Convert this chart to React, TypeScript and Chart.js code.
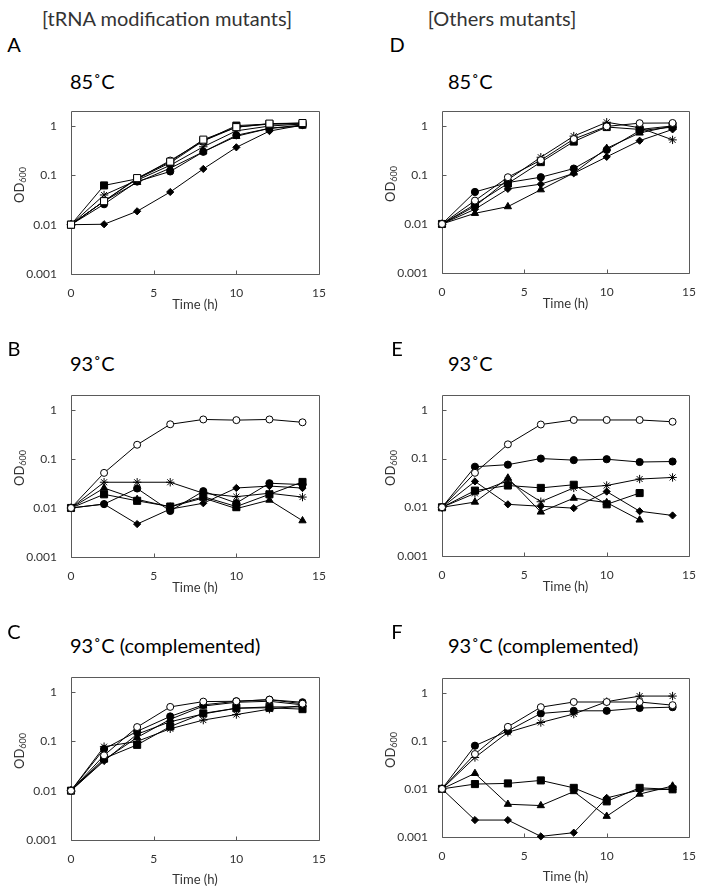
import React, { useEffect, useRef } from "react";
import { Chart, registerables } from "chart.js";
Chart.register(...registerables);

// ---------- shared axes / text ----------
const TIMES = [0, 2, 4, 6, 8, 10, 12, 14];
const X_TICKS = [0, 5, 10, 15];
const Y_TICKS = [0.001, 0.01, 0.1, 1];
const Y_MIN = 0.001;
const Y_MAX = 2;
const X_TITLE = "Time (h)";
const COLUMN_HEADERS = ["[tRNA modification mutants]", "[Others mutants]"];
const PANEL_LETTERS = ["A", "B", "C", "D", "E", "F"];
const PANEL_TITLES = ["85˚C", "93˚C", "93˚C (complemented)", "85˚C", "93˚C", "93˚C (complemented)"];

// ---------- Panel A (85˚C, tRNA modification mutants) ----------
const A_openCircle = [0.01, 0.03, 0.085, 0.2, 0.5, 0.95, 1.1, 1.15];
const A_openSquare = [0.01, 0.03, 0.088, 0.19, 0.53, 0.95, 1.12, 1.15];
const A_square = [0.01, 0.0625, 0.085, 0.18, 0.5, 1.02, 1.1, 1.1];
const A_star = [0.01, 0.04, 0.08, 0.16, 0.38, 0.8, 1.0, 1.1];
const A_circle = [0.01, 0.026, 0.075, 0.12, 0.3, 0.65, 0.9, 1.05];
const A_triangle = [0.01, 0.03, 0.072, 0.14, 0.3, 0.62, 0.9, 1.0];
const A_diamond = [0.01, 0.0102, 0.0187, 0.046, 0.135, 0.37, 0.79, 1.05];

// ---------- Panel B (93˚C, tRNA modification mutants) ----------
const B_openCircle = [0.01, 0.052, 0.195, 0.51, 0.64, 0.62, 0.64, 0.56];
const B_star = [0.01, 0.0335, 0.0335, 0.0335, 0.02, 0.017, 0.02, 0.0167];
const B_triangle = [0.01, 0.0255, 0.015, 0.0105, 0.016, 0.0097, 0.0145, 0.0055];
const B_square = [0.01, 0.019, 0.014, 0.0107, 0.017, 0.0107, 0.019, 0.034];
const B_circle = [0.01, 0.012, 0.025, 0.0087, 0.022, 0.0126, 0.032, 0.03];
const B_diamond = [0.01, 0.012, 0.0047, 0.0095, 0.0125, 0.0256, 0.028, 0.0255];

// ---------- Panel C (93˚C complemented, tRNA modification mutants) ----------
const C_openCircle = [0.01, 0.052, 0.195, 0.5, 0.64, 0.65, 0.7, 0.58];
const C_circle = [0.01, 0.07, 0.16, 0.32, 0.55, 0.65, 0.7, 0.62];
const C_triangle = [0.01, 0.042, 0.12, 0.28, 0.52, 0.62, 0.65, 0.55];
const C_square = [0.01, 0.045, 0.085, 0.2, 0.37, 0.47, 0.48, 0.45];
const C_diamond = [0.01, 0.04, 0.14, 0.25, 0.36, 0.47, 0.5, 0.5];
const C_star = [0.01, 0.078, 0.1, 0.18, 0.27, 0.35, 0.45, 0.53];

// ---------- Panel D (85˚C, others mutants) ----------
const D_openCircle = [0.01, 0.03, 0.09, 0.2, 0.54, 0.98, 1.14, 1.15];
const D_star = [0.01, 0.023, 0.08, 0.23, 0.62, 1.19, 0.92, 0.52];
const D_square = [0.01, 0.025, 0.067, 0.183, 0.48, 0.95, 0.85, 1.0];
const D_circle = [0.01, 0.045, 0.07, 0.09, 0.135, 0.325, 0.8, 0.95];
const D_triangle = [0.01, 0.0165, 0.0226, 0.05, 0.11, 0.35, 0.72, 1.0];
const D_diamond = [0.01, 0.02, 0.052, 0.065, 0.108, 0.234, 0.5, 0.85];

// ---------- Panel E (93˚C, others mutants) ----------
const E_openCircle = [0.01, 0.051, 0.196, 0.5, 0.62, 0.62, 0.62, 0.57];
const E_circle = [0.01, 0.068, 0.075, 0.1, 0.093, 0.097, 0.085, 0.087];
const E_star = [0.01, 0.0193, 0.035, 0.013, 0.025, 0.028, 0.038, 0.041];
const E_square = [0.01, 0.022, 0.028, 0.025, 0.029, 0.0115, 0.0196, null];
const E_triangle = [0.01, 0.0128, 0.04, 0.008, 0.0154, 0.0125, 0.0055, null];
const E_diamond = [0.01, 0.034, 0.0115, 0.0105, 0.0096, 0.021, 0.0083, 0.0068];

// ---------- Panel F (93˚C complemented, others mutants) ----------
const F_openCircle = [0.01, 0.053, 0.195, 0.5, 0.64, 0.64, 0.64, 0.55];
const F_circle = [0.01, 0.079, 0.16, 0.37, 0.42, 0.42, 0.48, 0.5];
const F_star = [0.01, 0.045, 0.15, 0.24, 0.36, 0.65, 0.85, 0.85];
const F_square = [0.01, 0.0126, 0.013, 0.015, 0.0105, 0.0055, 0.0105, 0.0098];
const F_triangle = [0.01, 0.021, 0.0048, 0.0045, 0.0088, 0.0027, 0.0078, 0.0115];
const F_diamond = [0.01, 0.00225, 0.00225, 0.00103, 0.00123, 0.0065, 0.0095, 0.0098];

// ---------- styles ----------
const FONT = "Lato, 'Noto Sans', sans-serif";
const TEXT = "#333333";
const FRAME = "#5a5a5a";

type MarkerKey = "openCircle" | "openSquare" | "square" | "circle" | "triangle" | "diamond" | "star";
const MARKERS: Record<MarkerKey, { style: string; r: number; fill: string }> = {
  openCircle: { style: "circle", r: 3.5, fill: "#ffffff" },
  openSquare: { style: "rect", r: 5, fill: "#ffffff" },
  square: { style: "rect", r: 5, fill: "#000000" },
  circle: { style: "circle", r: 3.6, fill: "#000000" },
  triangle: { style: "triangle", r: 4.2, fill: "#000000" },
  diamond: { style: "rectRot", r: 3.6, fill: "#000000" },
  star: { style: "star", r: 4.2, fill: "#000000" },
};

type Series = { marker: MarkerKey; values: (number | null)[] };
type PanelCfg = {
  letter: string;
  title: string;
  box: { l: number; t: number; r: number; b: number };
  xAxisH: number;
  xTitlePad: number;
  series: Series[];
};

const LEFT = { l: 71, r: 331 };
const RIGHT = { l: 442, r: 701 };

const PANELS: PanelCfg[] = [
  {
    letter: PANEL_LETTERS[0], title: PANEL_TITLES[0],
    box: { ...LEFT, t: 95, b: 274 }, xAxisH: 45, xTitlePad: 6,
    series: [
      { marker: "openSquare", values: A_openSquare },
      { marker: "openCircle", values: A_openCircle },
      { marker: "square", values: A_square },
      { marker: "star", values: A_star },
      { marker: "circle", values: A_circle },
      { marker: "triangle", values: A_triangle },
      { marker: "diamond", values: A_diamond },
    ],
  },
  {
    letter: PANEL_LETTERS[1], title: PANEL_TITLES[1],
    box: { ...LEFT, t: 379, b: 557 }, xAxisH: 45, xTitlePad: 6,
    series: [
      { marker: "openCircle", values: B_openCircle },
      { marker: "star", values: B_star },
      { marker: "triangle", values: B_triangle },
      { marker: "square", values: B_square },
      { marker: "circle", values: B_circle },
      { marker: "diamond", values: B_diamond },
    ],
  },
  {
    letter: PANEL_LETTERS[2], title: PANEL_TITLES[2],
    box: { ...LEFT, t: 661, b: 840 }, xAxisH: 48, xTitlePad: 0,
    series: [
      { marker: "openCircle", values: C_openCircle },
      { marker: "circle", values: C_circle },
      { marker: "triangle", values: C_triangle },
      { marker: "square", values: C_square },
      { marker: "diamond", values: C_diamond },
      { marker: "star", values: C_star },
    ],
  },
  {
    letter: PANEL_LETTERS[3], title: PANEL_TITLES[3],
    box: { ...RIGHT, t: 95, b: 273 }, xAxisH: 45, xTitlePad: 6,
    series: [
      { marker: "openCircle", values: D_openCircle },
      { marker: "star", values: D_star },
      { marker: "square", values: D_square },
      { marker: "circle", values: D_circle },
      { marker: "triangle", values: D_triangle },
      { marker: "diamond", values: D_diamond },
    ],
  },
  {
    letter: PANEL_LETTERS[4], title: PANEL_TITLES[4],
    box: { ...RIGHT, t: 379, b: 556 }, xAxisH: 45, xTitlePad: 6,
    series: [
      { marker: "openCircle", values: E_openCircle },
      { marker: "circle", values: E_circle },
      { marker: "star", values: E_star },
      { marker: "square", values: E_square },
      { marker: "triangle", values: E_triangle },
      { marker: "diamond", values: E_diamond },
    ],
  },
  {
    letter: PANEL_LETTERS[5], title: PANEL_TITLES[5],
    box: { ...RIGHT, t: 662, b: 837 }, xAxisH: 48, xTitlePad: 0,
    series: [
      { marker: "openCircle", values: F_openCircle },
      { marker: "circle", values: F_circle },
      { marker: "star", values: F_star },
      { marker: "square", values: F_square },
      { marker: "triangle", values: F_triangle },
      { marker: "diamond", values: F_diamond },
    ],
  },
];

const Y_AXIS_W = 71;
const PAD_TOP = 5;
const PAD_RIGHT = 7;

const framePlugin = {
  id: "frameBox",
  beforeDatasetsDraw(chart: any) {
    const { ctx, chartArea: a, scales } = chart;
    ctx.save();
    ctx.strokeStyle = FRAME;
    ctx.lineWidth = 1;
    const L = Math.round(a.left) + 0.5;
    const T = Math.round(a.top) + 0.5;
    const R = Math.round(a.right) + 0.5;
    const B = Math.round(a.bottom) + 0.5;
    ctx.beginPath();
    ctx.rect(L, T, R - L, B - T);
    for (const v of X_TICKS) {
      const x = Math.round(scales.x.getPixelForValue(v)) + 0.5;
      ctx.moveTo(x, B);
      ctx.lineTo(x, B - 4);
    }
    for (const v of Y_TICKS) {
      const y = Math.round(scales.y.getPixelForValue(v)) + 0.5;
      ctx.moveTo(L, y);
      ctx.lineTo(L + 4, y);
    }
    ctx.stroke();
    ctx.restore();
  },
};

function Panel({ cfg }: { cfg: PanelCfg }) {
  const ref = useRef<HTMLCanvasElement | null>(null);
  const { box } = cfg;
  const left = box.l - Y_AXIS_W;
  const top = box.t - PAD_TOP;
  const width = box.r - left + PAD_RIGHT;
  const height = box.b - box.t + PAD_TOP + cfg.xAxisH;

  useEffect(() => {
    if (!ref.current) return;
    const datasets = cfg.series.map((s) => {
      const m = MARKERS[s.marker];
      const data = TIMES.map((t, i) => ({ x: t, y: s.values[i] })).filter((p) => p.y !== null);
      return {
        data,
        borderColor: "#000000",
        borderWidth: 1,
        pointStyle: m.style,
        pointRadius: m.r,
        pointBackgroundColor: m.fill,
        pointBorderColor: "#000000",
        pointBorderWidth: 1,
        fill: false,
        tension: 0,
        clip: false,
      };
    });
    const chart = new Chart(ref.current, {
      type: "line",
      data: { datasets } as any,
      plugins: [framePlugin],
      options: {
        animation: false,
        responsive: false,
        maintainAspectRatio: false,
        devicePixelRatio: 1,
        layout: { padding: { top: PAD_TOP, right: PAD_RIGHT, left: 0, bottom: 0 } },
        plugins: { legend: { display: false }, tooltip: { enabled: false }, title: { display: false } },
        scales: {
          x: {
            type: "linear",
            min: 0,
            max: 15,
            afterBuildTicks: (s: any) => {
              s.ticks = X_TICKS.map((v) => ({ value: v }));
            },
            afterFit: (s: any) => {
              s.height = cfg.xAxisH;
            },
            grid: { display: false, drawTicks: false },
            border: { display: false },
            ticks: { padding: 12, color: TEXT, font: { family: FONT, size: 12 }, maxRotation: 0 },
            title: {
              display: true,
              text: X_TITLE,
              color: TEXT,
              font: { family: FONT, size: 13 },
              padding: { top: 0, bottom: cfg.xTitlePad },
            },
          },
          y: {
            type: "logarithmic",
            min: Y_MIN,
            max: Y_MAX,
            afterBuildTicks: (s: any) => {
              s.ticks = Y_TICKS.map((v) => ({ value: v }));
            },
            afterFit: (s: any) => {
              s.width = Y_AXIS_W;
            },
            grid: { display: false, drawTicks: false },
            border: { display: false },
            ticks: {
              padding: 14,
              color: TEXT,
              font: { family: FONT, size: 12 },
              callback: (v: any) => String(v),
            },
          },
        },
      } as any,
    });
    return () => chart.destroy();
  }, [cfg]);

  const midY = (box.t + box.b) / 2;
  return (
    <>
      <canvas
        ref={ref}
        width={width}
        height={height}
        style={{ position: "absolute", left, top, width, height }}
      />
      <div
        style={{
          position: "absolute",
          left: left + 20,
          top: midY,
          transform: "translate(-50%, -50%) rotate(-90deg)",
          whiteSpace: "nowrap",
          fontFamily: FONT,
          fontSize: 13,
          color: TEXT,
          lineHeight: 1,
        }}
      >
        OD<sub style={{ fontSize: 9, verticalAlign: "-2px" }}>600</sub>
      </div>
    </>
  );
}

const LETTER_POS = [
  { x: 14, y: 44 },
  { x: 14, y: 348 },
  { x: 14, y: 631 },
  { x: 397, y: 44 },
  { x: 397, y: 348 },
  { x: 397, y: 631 },
];
const TITLE_POS = [
  { x: 70, y: 81 },
  { x: 70, y: 363 },
  { x: 70, y: 645 },
  { x: 448, y: 81 },
  { x: 448, y: 363 },
  { x: 448, y: 645 },
];
const HEADER_POS = [
  { x: 167, y: 18 },
  { x: 502, y: 18 },
];

export default function App() {
  return (
    <div
      style={{
        position: "absolute",
        left: 0,
        top: 0,
        width: 708,
        height: 887,
        overflow: "hidden",
        background: "#ffffff",
        fontFamily: FONT,
      }}
    >
      {COLUMN_HEADERS.map((h, i) => (
        <div
          key={h}
          style={{
            position: "absolute",
            left: HEADER_POS[i].x,
            top: HEADER_POS[i].y,
            transform: "translate(-50%, -50%)",
            whiteSpace: "nowrap",
            fontSize: 20,
            color: TEXT,
            lineHeight: 1,
          }}
        >
          {h}
        </div>
      ))}
      {PANELS.map((p, i) => (
        <React.Fragment key={p.letter}>
          <div
            style={{
              position: "absolute",
              left: LETTER_POS[i].x,
              top: LETTER_POS[i].y,
              transform: "translate(-50%, -50%)",
              fontSize: 20,
              color: "#000",
              lineHeight: 1,
            }}
          >
            {p.letter}
          </div>
          <div
            style={{
              position: "absolute",
              left: TITLE_POS[i].x,
              top: TITLE_POS[i].y,
              transform: "translateY(-50%)",
              whiteSpace: "nowrap",
              fontSize: 20,
              color: "#000",
              lineHeight: 1,
            }}
          >
            {p.title}
          </div>
          <Panel cfg={p} />
        </React.Fragment>
      ))}
    </div>
  );
}
